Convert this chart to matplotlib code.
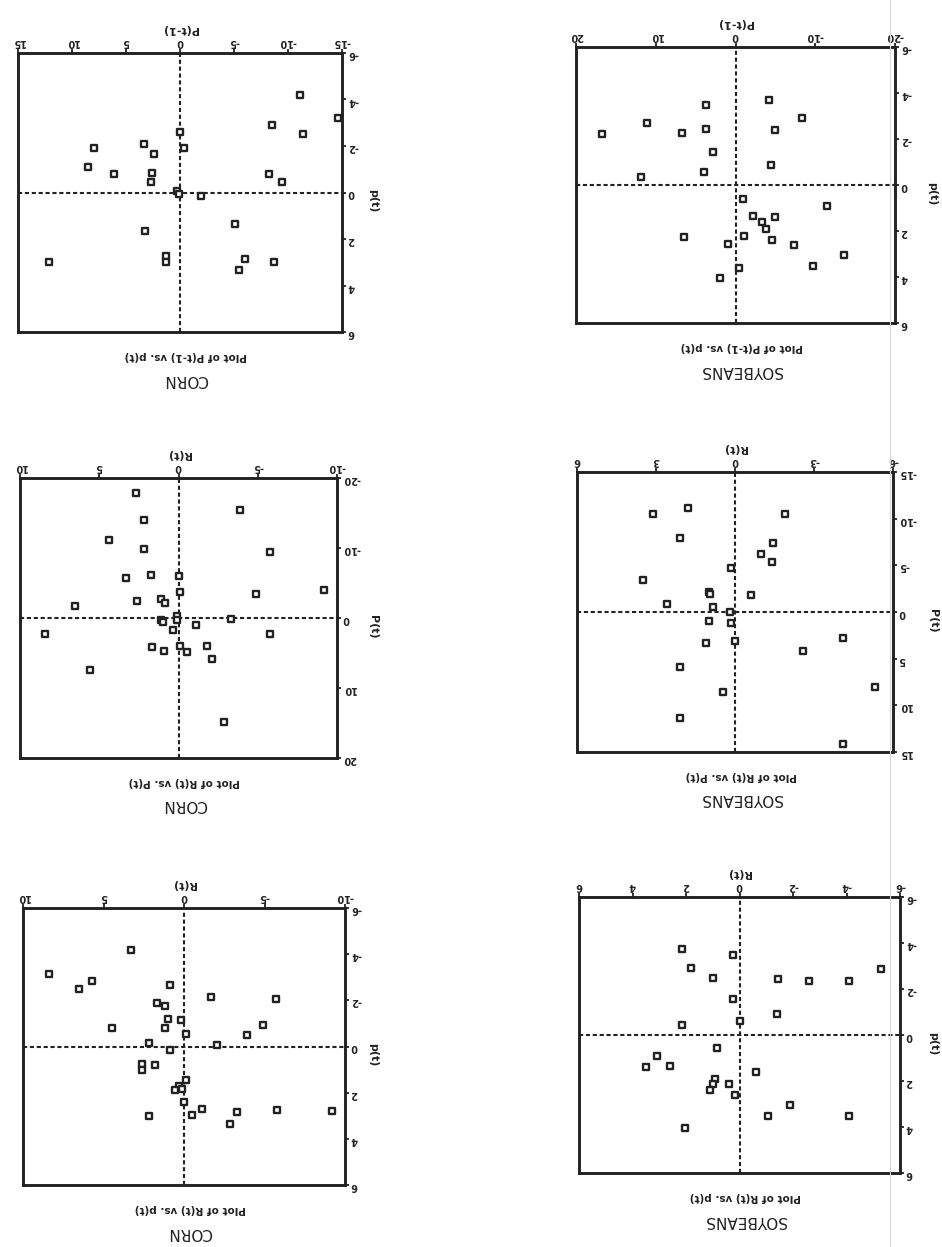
import matplotlib
matplotlib.use('Agg')
import matplotlib.pyplot as plt
from matplotlib.lines import Line2D

plt.rcParams['font.family'] = 'DejaVu Sans'
plt.rcParams['axes.unicode_minus'] = False

INK = '#222222'
W, H = 942, 1247

# CORN, P(t-1) vs p(t)
corn_lag_x = [-11.1, -14.6, -8.5, -11.4, 0.0, -0.4, 7.95, 3.3, 2.4, 8.5, 6.1, 2.6, 2.7,
              -8.2, -9.4, 0.3, 0.1, -1.95, 3.25, -5.1, 12.1, 1.3, 1.3, -6.0, -8.7, -5.5]
corn_lag_y = [-4.2, -3.2, -2.9, -2.5, -2.6, -1.9, -1.9, -2.1, -1.65, -1.1, -0.8, -0.85, -0.45,
              -0.8, -0.45, -0.05, 0.05, 0.15, 1.65, 1.35, 3.0, 2.75, 3.0, 2.85, 3.0, 3.35]

# SOYBEANS, P(t-1) vs p(t)
soy_lag_x = [-4.2, 3.7, -8.3, 11.1, 3.7, -5.0, 6.7, 16.8, 2.8, -4.5, 3.9, 11.9, -1.0, -11.5,
             -2.2, -5.0, -3.3, -3.8, -1.1, 6.5, -4.6, 0.9, -7.35, -13.6, -9.7, -0.5, 2.0]
soy_lag_y = [-3.7, -3.5, -2.9, -2.7, -2.45, -2.4, -2.25, -2.2, -1.45, -0.85, -0.55, -0.35, 0.6, 0.9,
             1.35, 1.4, 1.6, 1.9, 2.2, 2.25, 2.4, 2.55, 2.6, 3.05, 3.5, 3.6, 4.05]

# CORN, R(t) vs P(t)
corn_lvl_x = [2.7, -3.85, 2.2, 4.4, 2.2, -5.8, 3.3, 1.75, 0.0, -0.1, -4.9, -9.2, 6.5, 2.6, 1.1, 0.85,
              0.1, 0.1, 1.1, 0.95, -3.3, -1.1, 0.35, 8.4, -5.75, 1.65, 0.9, -0.1, -0.55, -1.8, -2.1,
              5.6, -2.9]
corn_lvl_y = [-17.8, -15.5, -14.0, -11.2, -9.9, -9.4, -5.7, -6.1, -6.0, -3.7, -3.4, -4.05, -1.75, -2.5,
              -2.7, -2.1, -0.25, 0.35, 0.25, 0.6, 0.15, 1.05, 1.65, 2.3, 2.3, 4.2, 4.75, 3.95, 4.9,
              4.05, 5.8, 7.4, 14.9]

# SOYBEANS, R(t) vs P(t)
soy_lvl_x = [3.1, 1.8, -1.9, 2.1, -1.45, -1.0, -1.4, 0.15, 3.5, 1.0, 0.95, -0.6, 2.6, 0.85, 0.2,
             1.0, 0.15, 1.1, 0.0, -4.1, -2.6, 2.1, -5.3, 0.45, 2.1, -4.1]
soy_lvl_y = [-10.5, -11.1, -10.5, -7.9, -7.4, -6.2, -5.4, -4.75, -3.45, -2.1, -1.95, -1.8, -0.9, -0.55,
             0.0, 1.0, 1.2, 3.3, 3.1, 2.8, 4.2, 5.9, 8.0, 8.6, 11.4, 14.1]

# CORN, R(t) vs p(t)
corn_ret_x = [3.3, 8.4, 5.7, 6.5, 0.9, -1.7, -5.7, 1.7, 1.2, 1.0, 0.2, 1.15, 4.45, -4.9, -3.9, -0.1,
              2.2, -2.05, 0.9, 2.6, 2.6, 1.8, -0.1, 0.3, 0.55, 0.15, 0.0, -1.1, -0.5, 2.2, -3.3,
              -2.85, -5.8, -9.2]
corn_ret_y = [-4.2, -3.15, -2.85, -2.5, -2.65, -2.15, -2.05, -1.9, -1.75, -1.2, -1.15, -0.8, -0.8,
              -0.95, -0.5, -0.55, -0.15, -0.05, 0.15, 0.75, 1.0, 0.8, 1.45, 1.7, 1.9, 1.85, 2.4, 2.7,
              2.95, 3.0, 2.85, 3.35, 2.75, 2.8]

# SOYBEANS, R(t) vs p(t)
soy_ret_x = [2.15, 0.25, 1.8, -5.3, 1.0, -1.45, -2.6, -4.1, 0.25, -1.4, 0.0, 2.15, 0.85, 3.1, 3.5,
             2.6, -0.6, 0.9, 1.0, 1.1, 0.4, 0.15, -1.9, -1.05, -4.1, 2.05]
soy_ret_y = [-3.75, -3.5, -2.9, -2.85, -2.5, -2.45, -2.35, -2.35, -1.55, -0.9, -0.6, -0.45, 0.55,
             0.9, 1.4, 1.35, 1.6, 1.9, 2.15, 2.4, 2.15, 2.6, 3.05, 3.5, 3.5, 4.05]

x_ticks_corn_lag = [15, 10, 5, 0, -5, -10, -15]
x_ticks_soy_lag = [20, 10, 0, -10, -20]
x_ticks_corn_r = [10, 5, 0, -5, -10]
x_ticks_soy_r3 = [6, 3, 0, -3, -6]
x_ticks_soy_r2 = [6, 4, 2, 0, -2, -4, -6]
y_ticks_small = [-6, -4, -2, 0, 2, 4, 6]
y_ticks_corn_lvl = [-20, -10, 0, 10, 20]
y_ticks_soy_lvl = [-15, -10, -5, 0, 5, 10, 15]


def panel(fig, box, xs, ys, xticks, yticks, xlabel, ylabel, caption, crop, ylab_dx):
    'One scatter panel, drawn as it sits on the upside-down page'
    x0, y0, x1, y1 = box
    w, h = x1 - x0, y1 - y0
    ax = fig.add_axes([x0 / W, 1 - y1 / H, w / W, h / H])

    ax.scatter(xs, ys, marker='s', s=19, facecolors='white', edgecolors=INK,
               linewidths=1.7, zorder=3)
    ax.axhline(0, color=INK, lw=1.5, ls=(0, (2, 1.3)), zorder=2)
    ax.axvline(0, color=INK, lw=1.5, ls=(0, (2, 1.3)), zorder=2)

    # page is turned over: axes run backwards
    ax.set_xlim(xticks[0], xticks[-1])
    ax.set_ylim(yticks[-1], yticks[0])
    ax.set_xticks(xticks)
    ax.set_yticks(yticks)
    ax.xaxis.tick_top()
    ax.yaxis.tick_right()
    ax.tick_params(direction='out', length=3, width=1.3, color=INK, labelcolor=INK,
                   labelsize=7, labelrotation=180, pad=1)
    for lab in ax.get_xticklabels() + ax.get_yticklabels():
        lab.set_fontweight('bold')
    for sp in ax.spines.values():
        sp.set_linewidth(2.1)
        sp.set_color(INK)

    ax.text(0.5, 1 + 24 / h, xlabel, transform=ax.transAxes, rotation=180,
            ha='center', va='center', fontsize=8, fontweight='bold', color=INK)
    ax.text(1 + ylab_dx / w, 0.47, ylabel, transform=ax.transAxes, rotation=270,
            ha='center', va='center', fontsize=8, fontweight='bold', color=INK)
    ax.text(0.5 + 6 / w, -24 / h, caption, transform=ax.transAxes, rotation=180,
            ha='center', va='center', fontsize=7.5, fontweight='bold', color=INK)
    ax.text(0.5 + 6 / w, -47 / h, crop, transform=ax.transAxes, rotation=180,
            ha='center', va='center', fontsize=11, color=INK)
    return ax


fig = plt.figure(figsize=(W / 100, H / 100), dpi=100)
fig.patch.set_facecolor('white')

panel(fig, (18, 53, 342, 332), corn_lag_x, corn_lag_y, x_ticks_corn_lag, y_ticks_small,
      'P(t-1)', 'p(t)', 'Plot of P(t-1) vs. p(t)', 'CORN', 31)
panel(fig, (576, 47, 895, 323), soy_lag_x, soy_lag_y, x_ticks_soy_lag, y_ticks_small,
      'P(t-1)', 'p(t)', 'Plot of P(t-1) vs. p(t)', 'SOYBEANS', 37)
panel(fig, (20, 478, 337, 758), corn_lvl_x, corn_lvl_y, x_ticks_corn_r, y_ticks_corn_lvl,
      'R(t)', 'P(t)', 'Plot of R(t) vs. P(t)', 'CORN', 36)
panel(fig, (577, 472, 893, 752), soy_lvl_x, soy_lvl_y, x_ticks_soy_r3, y_ticks_soy_lvl,
      'R(t)', 'P(t)', 'Plot of R(t) vs. P(t)', 'SOYBEANS', 40)
panel(fig, (23, 908, 345, 1185), corn_ret_x, corn_ret_y, x_ticks_corn_r, y_ticks_small,
      'R(t)', 'p(t)', 'Plot of R(t) vs. p(t)', 'CORN', 28)
panel(fig, (579, 897, 900, 1173), soy_ret_x, soy_ret_y, x_ticks_soy_r2, y_ticks_small,
      'R(t)', 'p(t)', 'Plot of R(t) vs. p(t)', 'SOYBEANS', 33)

# faint scanner streak down the right column
fig.add_artist(Line2D([890 / W, 890 / W], [0, 1], color='#d8d8d8', lw=0.8))

fig.savefig('out.png', dpi=100, facecolor='white')
